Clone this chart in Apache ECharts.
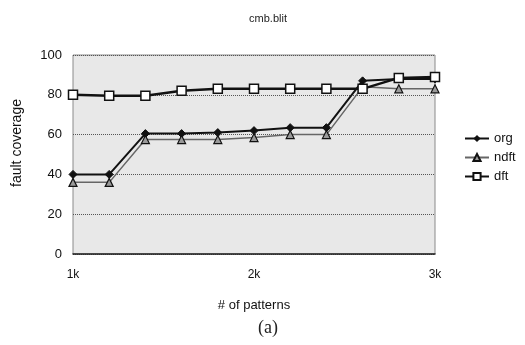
<!DOCTYPE html>
<html>
<head>
<meta charset="utf-8">
<script src="https://cdn.jsdelivr.net/npm/echarts@6/dist/echarts.min.js"></script>
<style>
  html, body { margin: 0; padding: 0; background: #fff; }
  #chart { width: 525px; height: 345px; }
</style>
</head>
<body>
<div id="chart"></div>
<script>
// x categories: 1k .. 3k in steps of 0.2k, only 1k/2k/3k get a label
const categories = ['1k', '1.2k', '1.4k', '1.6k', '1.8k', '2k', '2.2k', '2.4k', '2.6k', '2.8k', '3k'];
const orgValues  = [40, 40, 60.5, 60.5, 61, 62, 63.5, 63.5, 87, 88, 88];
const ndftValues = [36, 36, 57.5, 57.5, 57.5, 58.5, 60, 60, 84, 83, 83];
const dftValues  = [80, 79.5, 79.5, 82, 83, 83, 83, 83, 83, 88.5, 89];

const chart = echarts.init(document.getElementById('chart'));

const font = 'Liberation Sans, Arial, sans-serif';

const option = {
  animation: false,
  backgroundColor: '#fff',
  title: [
    {
      text: 'cmb.blit',
      left: 263, top: 8, textAlign: 'center',
      textStyle: { fontFamily: font, fontSize: 11, fontWeight: 'normal', color: '#222' }
    },
    {
      text: '(a)',
      left: 263, top: 314, textAlign: 'center',
      textStyle: { fontFamily: 'Liberation Serif, serif', fontSize: 18, fontWeight: 'normal', color: '#222' }
    }
  ],
  legend: {
    orient: 'vertical',
    left: 459, top: 127,
    itemWidth: 24, itemHeight: 9, itemGap: 6,
    textStyle: { fontFamily: font, fontSize: 13, color: '#111' },
    data: ['org', 'ndft', 'dft']
  },
  grid: {
    left: 73, right: 90, top: 55, bottom: 91,
    show: true,
    backgroundColor: '#e8e8e8',
    borderColor: '#8a8a8a', borderWidth: 1
  },
  xAxis: {
    type: 'category',
    data: categories,
    boundaryGap: false,
    name: '# of patterns',
    nameLocation: 'middle',
    nameGap: 45,
    nameTextStyle: { fontFamily: font, fontSize: 13, color: '#111' },
    axisLine: { lineStyle: { color: '#222', width: 1.5 } },
    axisTick: { show: false },
    axisLabel: { interval: 4, margin: 15, fontFamily: font, fontSize: 12, color: '#111' },
    splitLine: { show: false }
  },
  yAxis: {
    type: 'value',
    min: 0, max: 100, interval: 20,
    axisLine: { show: false },
    axisTick: { show: false },
    axisLabel: { margin: 11, fontFamily: font, fontSize: 13, color: '#111' },
    splitLine: { lineStyle: { color: '#555', type: 'dotted', width: 1 } }
  },
  graphic: [
    {
      type: 'text',
      x: 17, y: 143, rotation: Math.PI / 2,
      style: {
        text: 'fault coverage', fontFamily: font, fontSize: 14, fill: '#111',
        textAlign: 'center', textVerticalAlign: 'middle'
      }
    }
  ],
  series: [
    {
      name: 'org', type: 'line', data: orgValues,
      symbol: 'diamond', symbolSize: 8,
      lineStyle: { color: '#111', width: 2 },
      itemStyle: { color: '#111', borderColor: '#111' }
    },
    {
      name: 'ndft', type: 'line', data: ndftValues,
      symbol: 'triangle', symbolSize: 8,
      lineStyle: { color: '#666', width: 1.5 },
      itemStyle: { color: '#9a9a9a', borderColor: '#111', borderWidth: 1.2 }
    },
    {
      name: 'dft', type: 'line', data: dftValues,
      symbol: 'rect', symbolSize: 9,
      lineStyle: { color: '#111', width: 2.5 },
      itemStyle: { color: '#fff', borderColor: '#111', borderWidth: 1.5 }
    }
  ]
};

chart.setOption(option);
</script>
</body>
</html>
